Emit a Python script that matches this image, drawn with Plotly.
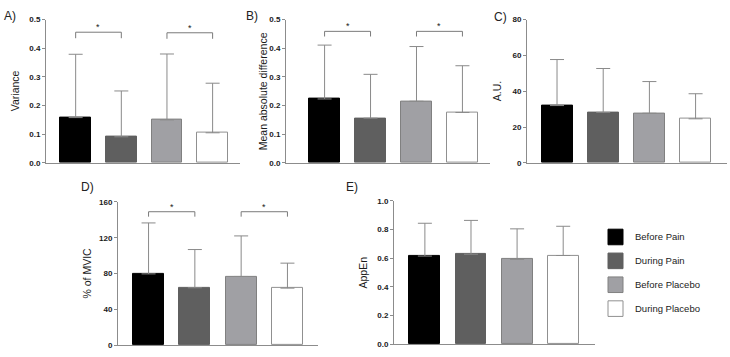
import plotly.graph_objects as go

W, H = 730, 357

categories = ["Before Pain", "During Pain", "Before Placebo", "During Placebo"]
bar_colors = ["#000000", "#5f5f5f", "#a0a0a4", "#ffffff"]
line_colors = ["#000000", "#5f5f5f", "#808080", "#909090"]

variance_mean = [0.158, 0.091, 0.150, 0.105]
variance_sd = [0.221, 0.160, 0.230, 0.173]

mad_mean = [0.223, 0.156, 0.215, 0.176]
mad_sd = [0.188, 0.153, 0.191, 0.163]

au_mean = [32.0, 28.2, 27.7, 24.6]
au_sd = [25.7, 24.5, 17.7, 14.0]

mvic_mean = [79.6, 64.1, 76.7, 63.7]
mvic_sd = [56.9, 42.7, 45.3, 27.9]

appen_mean = [0.615, 0.628, 0.592, 0.619]
appen_sd = [0.229, 0.236, 0.213, 0.204]

# panel: label, y title, means, sds, y max, dtick, tick format, brackets [(i, j, level, drop)]
panels = [
    dict(label="A)", title="Variance", mean=variance_mean, sd=variance_sd, ymax=0.5, dtick=0.1, fmt=".1f",
         brackets=[(0, 1, 0.456, 0.021), (2, 3, 0.454, 0.021)]),
    dict(label="B)", title="Mean absolute difference", mean=mad_mean, sd=mad_sd, ymax=0.5, dtick=0.1, fmt=".1f",
         brackets=[(0, 1, 0.459, 0.018), (2, 3, 0.459, 0.018)]),
    dict(label="C)", title="A.U.", mean=au_mean, sd=au_sd, ymax=80, dtick=20, fmt="d", brackets=[]),
    dict(label="D)", title="% of MVIC", mean=mvic_mean, sd=mvic_sd, ymax=160, dtick=40, fmt="d",
         brackets=[(0, 1, 149, 5.5), (2, 3, 149, 5.5)]),
    dict(label="E)", title="AppEn", mean=appen_mean, sd=appen_sd, ymax=1.0, dtick=0.2, fmt=".1f", brackets=[]),
]

# layout geometry in pixels (left, right of x axis; top, bottom of y axis)
geom = [
    dict(x0=46, x1=240, y0=16, y1=163, xr=(-0.65, 3.6), lab=(10, 12), tx=15),
    dict(x0=286, x1=490, y0=16, y1=163, xr=(-0.84, 3.6), lab=(252, 12), tx=263),
    dict(x0=527, x1=727, y0=16, y1=163, xr=(-0.65, 3.68), lab=(500, 13), tx=497),
    dict(x0=118, x1=318, y0=203, y1=350, xr=(-0.66, 3.66), lab=(87, 188), tx=87),
    dict(x0=394, x1=595, y0=202, y1=349, xr=(-0.67, 3.69), lab=(352, 188), tx=363),
]

font = "Liberation Sans, Arial, sans-serif"
fig = go.Figure()
annotations = []
shapes = []
axis_gray = "#8c8c8c"

for k, (p, g) in enumerate(zip(panels, geom)):
    n = "" if k == 0 else str(k + 1)
    for i, cat in enumerate(categories):
        fig.add_trace(go.Bar(
            x=[i], y=[p["mean"][i]], name=cat, width=0.67,
            marker=dict(color=bar_colors[i], line=dict(color=line_colors[i], width=1)),
            error_y=dict(type="data", array=[p["sd"][i]], arrayminus=[0], symmetric=False,
                         color="#8a8a8a", thickness=1, width=7),
            xaxis="x" + n, yaxis="y" + n, showlegend=False,
        ))
    fig.update_layout(**{
        "xaxis" + n: dict(domain=[g["x0"] / W, g["x1"] / W], range=list(g["xr"]), showticklabels=False,
                          ticks="", showgrid=False, zeroline=False, showline=True, linecolor=axis_gray,
                          linewidth=1, anchor="y" + n, fixedrange=True),
        "yaxis" + n: dict(domain=[1 - g["y1"] / H, 1 - g["y0"] / H], range=[0, p["ymax"]], dtick=p["dtick"],
                          tickformat=p["fmt"], showgrid=False, zeroline=False, showline=True,
                          linecolor=axis_gray, linewidth=1, ticks="outside", ticklen=3, tickcolor=axis_gray,
                          tickfont=dict(family=font, size=8, color="#1a1a1a", weight="bold"),
                          anchor="x" + n, fixedrange=True),
    })
    annotations.append(dict(text=p["label"], x=g["lab"][0] / W, y=1 - g["lab"][1] / H, xref="paper",
                            yref="paper", showarrow=False, font=dict(family=font, size=12, color="#222"),
                            xanchor="center", yanchor="middle"))
    annotations.append(dict(text=p["title"], x=g["tx"] / W, y=1 - ((g["y0"] + g["y1"]) / 2) / H,
                            xref="paper", yref="paper", showarrow=False, textangle=-90,
                            font=dict(family=font, size=10.5, color="#1a1a1a"),
                            xanchor="center", yanchor="middle"))
    for (i, j, lvl, drop) in p["brackets"]:
        shapes.append(dict(type="path", xref="x" + n, yref="y" + n,
                           path=f"M {i} {lvl - drop} L {i} {lvl} L {j} {lvl} L {j} {lvl - drop}",
                           line=dict(color="#7a7a7a", width=1)))
        annotations.append(dict(text="*", x=(i + j) / 2, y=lvl, xref="x" + n, yref="y" + n,
                                showarrow=False, yanchor="bottom", yshift=-2,
                                font=dict(family=font, size=9, color="#222")))

# custom legend (key squares + labels)
leg_x0, leg_top, leg_step, sq_w, sq_h, txt_x = 608, 231, 24.5, 15, 16, 633
for i, cat in enumerate(categories):
    top = leg_top + i * leg_step
    shapes.append(dict(type="rect", xref="paper", yref="paper",
                       x0=leg_x0 / W, x1=(leg_x0 + sq_w) / W, y0=1 - (top + sq_h) / H, y1=1 - top / H,
                       fillcolor=bar_colors[i], line=dict(color=line_colors[i], width=1)))
    annotations.append(dict(text=cat, x=txt_x / W, y=1 - (top + sq_h / 2) / H, xref="paper", yref="paper",
                            showarrow=False, xanchor="left", yanchor="middle",
                            font=dict(family=font, size=9.5, color="#222")))

fig.update_layout(
    width=W, height=H, margin=dict(l=0, r=0, t=0, b=0),
    paper_bgcolor="white", plot_bgcolor="white",
    barmode="overlay", bargap=0, showlegend=False,
    annotations=annotations, shapes=shapes,
)

fig.write_html("out.html")
